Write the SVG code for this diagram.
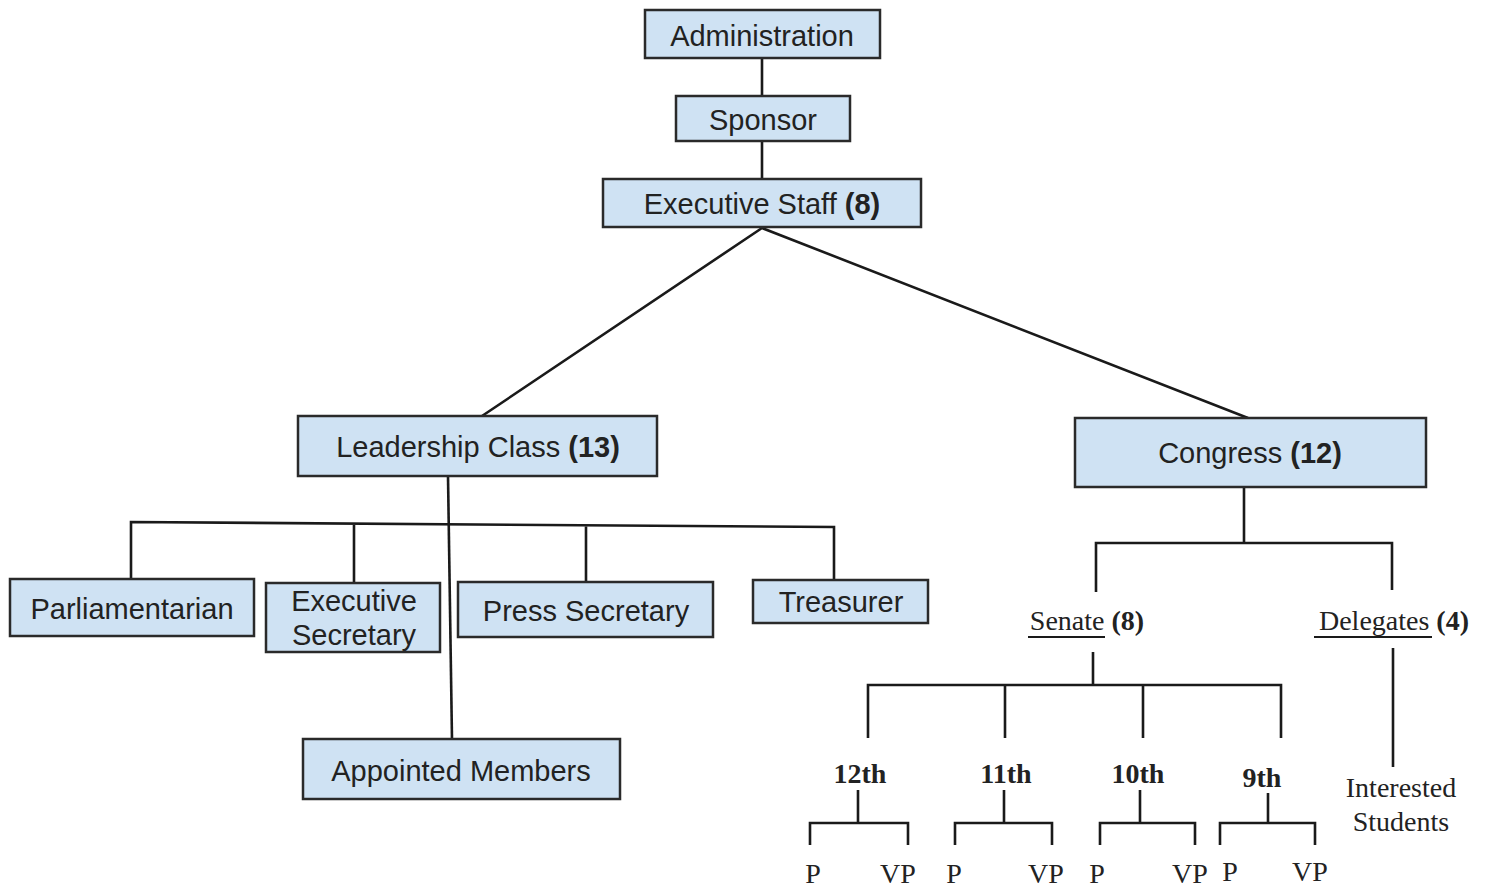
<svg xmlns="http://www.w3.org/2000/svg" width="1490" height="890" viewBox="0 0 1490 890">
<style>
.box{fill:#cfe2f3;stroke:#2a2a2a;stroke-width:2.5}
.t{font-family:"Liberation Sans",Arial,sans-serif;font-size:29px;fill:#222;text-anchor:middle}
.s{font-family:"Liberation Serif","Times New Roman",serif;font-size:28px;fill:#222;text-anchor:middle}
.b{font-weight:bold}
.ln{fill:none;stroke:#1a1a1a;stroke-width:2.6}
</style>
<rect width="1490" height="890" fill="#fff"/>
<g id="connectors" class="ln">
<path d="M762 58V96M762 141V179"/>
<path d="M762 228L482 416M762 228L1248 418"/>
<path d="M448 476L452 740"/>
<path d="M131 580V522L834 527V580M354 523V582M586 525V582"/>
<path d="M1244 487V543M1096 592V543H1392V590"/>
<path d="M1093 652V685M868 738V685H1281V738M1005 685V738M1143 685V738"/>
<path d="M1393 648V767"/>
<path d="M858 790V823M810 845V823H908V845"/>
<path d="M1004 790V823M955 845V823H1052V845"/>
<path d="M1140 790V823M1100 845V823H1195V845"/>
<path d="M1268 793V823M1220 845V823H1315V845"/>
<path d="M1028 637H1105M1314 637H1432" stroke-width="2"/>
</g>
<g id="administration"><rect class="box" x="645" y="10" width="235" height="48"/><text class="t" x="762" y="46">Administration</text></g>
<g id="sponsor"><rect class="box" x="676" y="96" width="174" height="45"/><text class="t" x="763" y="130">Sponsor</text></g>
<g id="executive-staff"><rect class="box" x="603" y="179" width="318" height="48"/><text class="t" x="762" y="214">Executive Staff <tspan class="b">(8)</tspan></text></g>
<g id="leadership-class"><rect class="box" x="298" y="416" width="359" height="60"/><text class="t" x="478" y="457">Leadership Class <tspan class="b">(13)</tspan></text></g>
<g id="congress"><rect class="box" x="1075" y="418" width="351" height="69"/><text class="t" x="1250" y="463">Congress <tspan class="b">(12)</tspan></text></g>
<g id="parliamentarian"><rect class="box" x="10" y="579" width="244" height="57"/><text class="t" x="132" y="619">Parliamentarian</text></g>
<g id="executive-secretary"><rect class="box" x="266" y="583" width="174" height="69"/><text class="t" x="354" y="611">Executive</text><text class="t" x="354" y="645">Secretary</text></g>
<g id="press-secretary"><rect class="box" x="458" y="582" width="255" height="55"/><text class="t" x="586" y="621">Press Secretary</text></g>
<g id="treasurer"><rect class="box" x="753" y="580" width="175" height="43"/><text class="t" x="841" y="612">Treasurer</text></g>
<g id="appointed-members"><rect class="box" x="303" y="739" width="317" height="60"/><text class="t" x="461" y="781">Appointed Members</text></g>
<g id="senate"><text class="s" x="1087" y="630">Senate <tspan class="b">(8)</tspan></text></g>
<g id="delegates"><text class="s" x="1394" y="630">Delegates <tspan class="b">(4)</tspan></text></g>
<g id="interested-students"><text class="s" x="1401" y="797">Interested</text><text class="s" x="1401" y="831">Students</text></g>
<g id="grade-12"><text class="s b" x="860" y="783">12th</text><text class="s" x="813" y="883">P</text><text class="s" x="898" y="883">VP</text></g>
<g id="grade-11"><text class="s b" x="1006" y="783">11th</text><text class="s" x="954" y="883">P</text><text class="s" x="1046" y="883">VP</text></g>
<g id="grade-10"><text class="s b" x="1138" y="783">10th</text><text class="s" x="1097" y="883">P</text><text class="s" x="1190" y="883">VP</text></g>
<g id="grade-9"><text class="s b" x="1262" y="787">9th</text><text class="s" x="1230" y="881">P</text><text class="s" x="1310" y="881">VP</text></g>
</svg>
